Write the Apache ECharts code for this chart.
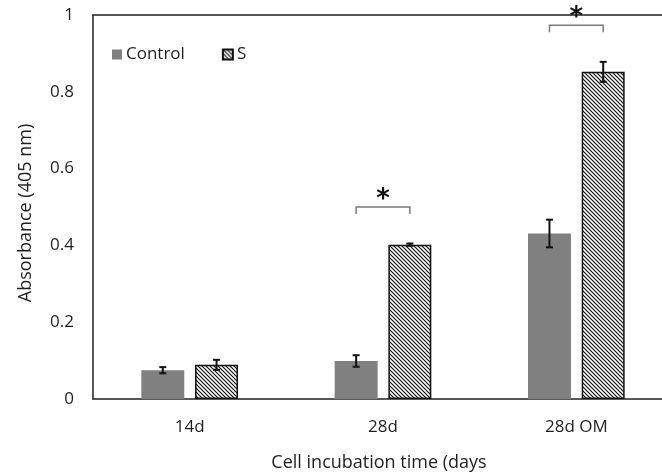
<!DOCTYPE html>
<html>
<head>
<meta charset="utf-8">
<script src="https://cdn.jsdelivr.net/npm/echarts@6/dist/echarts.min.js"></script>
<style>
  html, body { margin: 0; padding: 0; background: #fff; overflow: hidden; }
  #chart { width: 662px; height: 474px; }
</style>
</head>
<body>
<div id="chart"></div>
<script>
    // data
    const categories = ['14d', '28d', '28d OM']
    const controlMeans = [0.075, 0.099, 0.431]
    const controlErr = [0.008, 0.015, 0.036]
    const sMeans = [0.089, 0.402, 0.852]
    const sErr = [0.013, 0.003, 0.026]
    // significance brackets: category index + bracket level
    const sigCats = [1, 2]
    const sigLevels = [0.50, 0.973]
    const yTicks = [0, 0.2, 0.4, 0.6, 0.8, 1]

    const FONT = 'Open Sans'
    const TXT = '#1e1e1e'
    const BAR_OFFSET = 0.139  // bar centre offset as a share of the category band

    // diagonal hatch for the S series
    function hatch() {
        const c = document.createElement('canvas')
        c.width = 4
        c.height = 4
        const ctx = c.getContext('2d')
        ctx.fillStyle = '#fff'
        ctx.fillRect(0, 0, 4, 4)
        ctx.strokeStyle = '#111'
        ctx.lineWidth = 1.2
        ctx.beginPath()
        ctx.moveTo(-1, -1); ctx.lineTo(5, 5)
        ctx.moveTo(-1, 3); ctx.lineTo(1, 5)
        ctx.moveTo(3, -1); ctx.lineTo(5, 1)
        ctx.stroke()
        return c
    }
    const hatchFill = { image: hatch(), repeat: 'repeat' }

    function errorSeries(means, errs, side) {
        return {
            type: 'custom',
            z: 5,
            silent: true,
            renderItem: function (params, api) {
                const i = api.value(0)
                const band = api.size([1, 0])[0]
                const top = api.coord([i, api.value(1) + api.value(2)])
                const bot = api.coord([i, api.value(1) - api.value(2)])
                const x = top[0] + side * BAR_OFFSET * band
                const cap = 3.5
                const st = { stroke: '#111', lineWidth: 2 }
                return {
                    type: 'group',
                    children: [
                        { type: 'line', shape: { x1: x, y1: top[1], x2: x, y2: bot[1] }, style: st },
                        { type: 'line', shape: { x1: x - cap, y1: top[1], x2: x + cap, y2: top[1] }, style: st },
                        { type: 'line', shape: { x1: x - cap, y1: bot[1], x2: x + cap, y2: bot[1] }, style: st }
                    ]
                }
            },
            data: means.map((m, i) => [i, m, errs[i]])
        }
    }

    const mChart = echarts.init(document.getElementById('chart'))
    const option = {
        animation: false,
        textStyle: { fontFamily: FONT },
        grid: {
            left: 93,
            width: 580,
            top: 15,
            height: 384,
            outerBoundsMode: 'none',
            containLabel: false
        },
        legend: {
            left: 107,
            top: 41,
            itemWidth: 10,
            itemHeight: 10,
            itemGap: 37,
            icon: 'rect',
            textStyle: { fontFamily: FONT, fontSize: 17, color: TXT, padding: [0, 0, 0, -1] },
            data: ['Control', 'S']
        },
        xAxis: [
            {
                type: 'category',
                data: categories,
                name: 'Cell incubation time (days',
                nameLocation: 'middle',
                nameGap: 55,
                nameTextStyle: { fontSize: 18, color: TXT, padding: [0, 8, 0, 0] },
                axisLine: { lineStyle: { color: '#222', width: 1.5 } },
                axisTick: { show: false },
                axisLabel: { fontSize: 17, color: TXT, margin: 20 }
            },
            {
                // top frame line only
                type: 'category',
                data: categories,
                position: 'top',
                axisLine: { lineStyle: { color: '#222', width: 1.5 } },
                axisTick: { show: false },
                axisLabel: { show: false }
            }
        ],
        yAxis: {
            type: 'value',
            min: 0,
            max: 1,
            interval: 0.2,
            name: 'Absorbance (405 nm)',
            nameLocation: 'middle',
            nameGap: 58,
            nameTextStyle: { fontSize: 18, color: TXT, padding: [0, 12, 0, 0] },
            axisLine: { show: true, lineStyle: { color: '#222', width: 1.5 } },
            axisTick: { show: false },
            splitLine: { show: false },
            axisLabel: {
                fontSize: 17,
                color: TXT,
                margin: 19,
                formatter: v => (yTicks.includes(+v.toFixed(1)) ? String(+v.toFixed(1)) : '')
            }
        },
        // mask the right edge of the canvas (no frame there in the original)
        graphic: [{
            type: 'rect',
            right: 0,
            top: 18,
            z: 100,
            shape: { width: 6, height: 380 },
            style: { fill: '#fff' }
        }],
        series: [
            {
                name: 'Control',
                type: 'bar',
                barGap: '25%',
                barCategoryGap: '50%',
                itemStyle: { color: '#808080' },
                data: controlMeans
            },
            {
                name: 'S',
                type: 'bar',
                itemStyle: { color: hatchFill, borderColor: '#111', borderWidth: 1.5 },
                data: sMeans
            },
            errorSeries(controlMeans, controlErr, -1),
            errorSeries(sMeans, sErr, 1),
            {
                type: 'custom',
                z: 6,
                silent: true,
                renderItem: function (params, api) {
                    const i = api.value(0)
                    const band = api.size([1, 0])[0]
                    const p = api.coord([i, api.value(1)])
                    const x1 = p[0] - BAR_OFFSET * band
                    const x2 = p[0] + BAR_OFFSET * band
                    return {
                        type: 'group',
                        children: [
                            {
                                type: 'polyline',
                                shape: { points: [[x1, p[1] + 7], [x1, p[1]], [x2, p[1]], [x2, p[1] + 7]] },
                                style: { stroke: '#7a7a7a', lineWidth: 1.5, fill: null }
                            },
                            {
                                type: 'text',
                                x: p[0],
                                y: p[1] - 7,
                                style: {
                                    text: '*',
                                    fontSize: 26,
                                    fontWeight: 'bold',
                                    fontFamily: 'DejaVu Sans',
                                    fill: '#111',
                                    align: 'center',
                                    verticalAlign: 'middle'
                                }
                            }
                        ]
                    }
                },
                data: sigCats.map((c, k) => [c, sigLevels[k]])
            }
        ]
    }
    mChart.setOption(option)
    window.addEventListener('resize', function () {
        mChart.resize()
    })
</script>
</body>
</html>
